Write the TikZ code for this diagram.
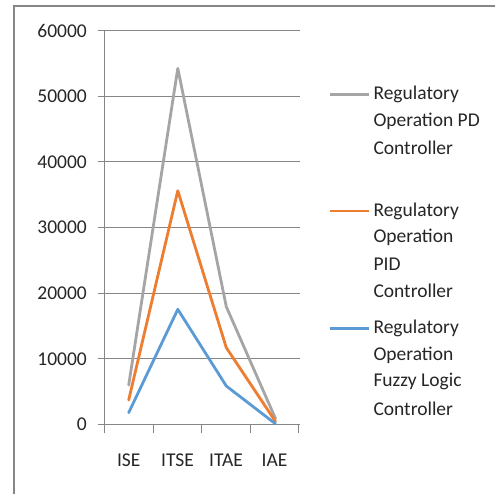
\documentclass[tikz,border=0pt]{standalone}
\usepackage{fontspec}
\setmainfont{Carlito}
\definecolor{pdgray}{HTML}{A5A5A5}
\definecolor{pidorange}{HTML}{ED7D31}
\definecolor{fuzzyblue}{HTML}{5B9BD5}
\definecolor{gridc}{HTML}{868686}
\definecolor{txt}{HTML}{262626}
\begin{document}
\begin{tikzpicture}[x=1pt,y=-1pt,
  lbl/.style={font=\fontsize{19.5}{26.7}\selectfont, text=txt, inner sep=0pt},
  grid/.style={draw=gridc, line width=1pt},
  series/.style={line width=2.8pt, line join=round, line cap=round}]
\useasboundingbox (0,0) rectangle (495,494);
\fill[white] (0,0) rectangle (495,494);
% outer frame (only top and left visible)
\draw[gridc, line width=1.2pt] (14,494) -- (14,6) -- (495,6);

\begin{scope}[shift={(0,424.5)}, y={(0,6.5667pt)}]
  % gridlines and left ticks
  \foreach \v/\t in {0/0,10/10000,20/20000,30/30000,40/40000,50/50000,60/60000} {
    \draw[grid] (97.7,\v) -- (299.5,\v);
    \node[lbl, anchor=east] (yl\v) at (87,\v) {\t};
  }
  % vertical axis
  \draw[grid] (104.7,0) -- (104.7,60);
  % bottom ticks
  \foreach \x in {104.7,153.2,201.7,250.2,298.7}
    \draw[grid] (\x,0) -- (\x,-1.25);
  % category labels
  \node[lbl] (cISE) at (128.7,-5.4) {ISE};
  \node[lbl] (cITSE) at (177.5,-5.4) {ITSE};
  \node[lbl] (cITAE) at (226,-5.4) {ITAE};
  \node[lbl] (cIAE) at (274.5,-5.4) {IAE};
  % series
  \coordinate (g1) at (128.7,6.0);  \coordinate (g2) at (177.8,54.24);
  \coordinate (g3) at (226.3,17.94); \coordinate (g4) at (275.5,0.9);
  \coordinate (o1) at (128.7,3.73);  \coordinate (o2) at (177.8,35.6);
  \coordinate (o3) at (226.3,11.7); \coordinate (o4) at (275.5,0.45);
  \coordinate (b1) at (128.7,1.8);  \coordinate (b2) at (177.8,17.54);
  \coordinate (b3) at (226.3,5.86); \coordinate (b4) at (275.5,0.1);
  \draw[series, pdgray] (g1) -- (g2) -- (g3) -- (g4);
  \draw[series, pidorange] (o1) -- (o2) -- (o3) -- (o4);
  \draw[series, fuzzyblue] (b1) -- (b2) -- (b3) -- (b4);
\end{scope}

% legend
\coordinate (lg1a) at (330,94.3); \coordinate (lg1b) at (369,94.3);
\coordinate (lg2a) at (330,211); \coordinate (lg2b) at (369,211);
\coordinate (lg3a) at (330,328.3); \coordinate (lg3b) at (369,328.3);
\draw[pdgray, line width=2.8pt] (lg1a) -- (lg1b);
\draw[pidorange, line width=2.8pt] (lg2a) -- (lg2b);
\draw[fuzzyblue, line width=2.8pt] (lg3a) -- (lg3b);
\node[lbl, anchor=west] (t1) at (373.3,94.3) {Regulatory};
\node[lbl, anchor=west] (t2) at (373.3,121) {Operation PD};
\node[lbl, anchor=west] (t3) at (373.3,147.7) {Controller};
\node[lbl, anchor=west] (t4) at (373.3,211) {Regulatory};
\node[lbl, anchor=west] (t5) at (373.3,237.7) {Operation};
\node[lbl, anchor=west] (t6) at (373.3,264.3) {PID};
\node[lbl, anchor=west] (t7) at (373.3,291) {Controller};
\node[lbl, anchor=west] (t8) at (373.3,328.3) {Regulatory};
\node[lbl, anchor=west] (t9) at (373.3,355) {Operation};
\node[lbl, anchor=west] (t10) at (373.3,381.7) {Fuzzy Logic};
\node[lbl, anchor=west] (t11) at (373.3,408.3) {Controller};
\end{tikzpicture}
\end{document}
